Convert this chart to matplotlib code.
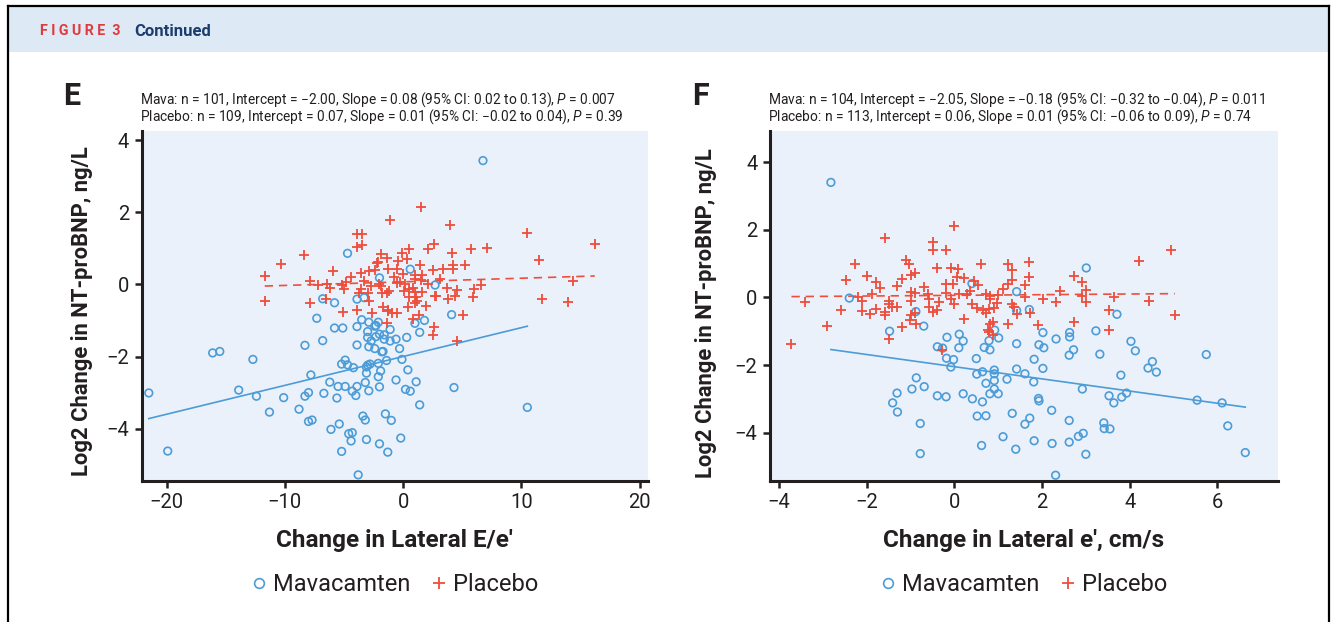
import numpy as np
import matplotlib
matplotlib.use('Agg')
import matplotlib.pyplot as plt
from matplotlib import font_manager
from matplotlib.lines import Line2D
from matplotlib.patches import Rectangle

# ---- panel E: change in lateral E/e' ----
e_mava_x = [-21.5, -19.9, -16.1, -15.5, -13.9, -12.7, -12.4, -11.3, -10.1, -8.8,
            -8.3, -8.3, -8.0, -8.0, -7.7, -7.8, -7.3, -6.8, -6.8, -6.7,
            -6.2, -6.1, -5.8, -5.8, -5.1, -5.6, -5.4, -5.5, -4.9, -5.2,
            -4.9, -4.7, -5.2, -4.7, -4.6, -4.3, -4.4, -4.3, -4.0, -4.2,
            -3.9, -3.9, -3.9, -3.9, -3.3, -3.8, -3.5, -3.4, -3.2, -3.2,
            -3.1, -3.0, -2.8, -3.1, -3.1, -3.0, -3.0, -2.9, -2.9, -2.7,
            -2.9, -2.4, -2.3, -2.1, -2.3, -2.1, -2.0, -2.1, -2.0, -1.6,
            -2.0, -2.0, -1.9, -1.7, -1.6, -1.4, -1.5, -1.3, 0.6, 2.7,
            4.1, 1.8, 1.0, 1.4, -2.4, -1.1, -1.1, -0.6, 0.3, -0.3,
            -0.1, 0.4, -0.6, 1.1, 0.2, 0.6, 4.3, 1.4, -1.0, -0.2,
            6.75, 10.5, -1.8]
e_mava_y = [-3.01, -4.62, -1.90, -1.86, -2.93, -2.08, -3.10, -3.54, -3.14, -3.46,
            -1.69, -3.10, -3.00, -3.80, -3.76, -2.51, -0.94, -0.40, -1.56, -3.02,
            -2.71, -4.02, -0.51, -1.21, -1.21, -3.15, -3.87, -2.83, -2.83, -2.21,
            -2.10, -2.23, -4.63, 0.86, -4.14, -4.11, -4.34, -2.96, -3.08, -2.31,
            -1.17, -1.68, -2.83, -0.41, -0.37, -5.28, -0.98, -3.65, -3.76, -2.72,
            -2.29, -2.24, -2.21, -2.46, -4.30, -1.31, -1.47, -1.73, -1.05, -1.57,
            -2.95, -1.78, -1.14, -1.05, -1.45, -2.56, -2.84, -2.19, -1.38, -1.40,
            -4.42, 0.18, -2.40, -1.86, -1.52, -2.11, -3.59, -4.65, 0.42, -0.02,
            -0.84, -1.00, -1.08, -1.33, -1.16, -1.25, -1.57, -1.52, -1.47, -1.78,
            -2.08, -2.37, -2.65, -2.70, -2.91, -2.96, -2.86, -3.34, -3.77, -4.26,
            3.43, -3.41, -1.87]

e_plac_x = [-11.7, -11.7, -10.3, -8.4, -7.9, -7.9, -7.2, -6.4, -6.2, -5.9,
            -6.5, -5.2, -5.0, -4.8, -5.1, -3.9, -3.5, -3.9, -3.5, -3.9,
            -3.6, -3.7, -3.6, -2.9, -3.0, -2.9, -2.6, -2.4, -2.1, -1.9,
            -2.2, -2.0, -1.8, -1.4, -1.7, -1.3, -1.4, -1.4, -1.1, 1.5,
            4.0, -0.1, 0.5, -0.4, 2.1, 2.6, 4.1, 5.7, -1.3, -0.5,
            1.4, 2.5, 3.4, 4.2, 4.2, 5.2, 1.0, 1.6, 1.0, 1.5,
            -1.9, -1.2, -0.5, -0.25, 0.2, 0.1, 0.5, 0.8, 1.0, 1.6,
            2.1, 0.5, 1.1, 1.2, 1.0, 0.45, 2.8, 3.7, 4.55, 3.8,
            4.4, 6.0, 5.9, -1.25, -0.9, -0.5, 0.8, 1.3, 2.65, 2.5,
            5.1, 4.55, 10.45, 16.2, 11.5, 7.1, 14.35, 6.6, 11.7, 13.95,
            2.7, -3.3, -2.7, 0.0, -0.8, 3.1, 1.9, -4.4, 0.3]
e_plac_y = [0.23, -0.46, 0.57, 0.82, 0.08, -0.53, -0.03, 0.01, -0.10, 0.38,
            -0.40, -0.01, -0.12, 0.06, -0.78, 1.40, 1.39, 1.03, 1.09, -0.72,
            -0.14, -0.23, 0.32, 0.38, -0.25, -0.46, -0.79, 0.40, 0.62, 0.83,
            0.58, 0.01, -0.23, -0.25, -0.64, -0.71, -1.08, 0.72, 1.79, 2.14,
            1.65, 0.88, 0.98, 0.65, 0.97, 1.11, 0.88, 0.97, 0.42, 0.42,
            0.53, 0.41, 0.43, 0.53, 0.43, 0.54, 0.26, 0.26, 0.14, 0.12,
            -0.05, -0.18, 0.05, 0.06, 0.00, -0.18, -0.13, -0.09, -0.21, -0.20,
            0.00, -0.35, -0.34, -0.46, -0.53, -0.62, -0.33, -0.11, -0.17, -0.41,
            -0.33, -0.14, -0.36, -0.74, -0.79, -0.79, -0.96, -0.84, -1.19, -1.40,
            -0.85, -1.58, 1.41, 1.12, 0.68, 1.02, 0.10, -0.02, -0.40, -0.48,
            -0.32, 0.10, -0.05, 0.30, 0.20, 0.15, -0.60, 0.20, 0.70]

e_mava_fit = (-2.00, 0.08)   # intercept, slope
e_plac_fit = (0.07, 0.01)
e_note = ['Mava: n = 101, Intercept = \u22122.00, Slope = 0.08 (95% CI: 0.02 to 0.13), $P$ = 0.007',
          'Placebo: n = 109, Intercept = 0.07, Slope = 0.01 (95% CI: \u22120.02 to 0.04), $P$ = 0.39']

# ---- panel F: change in lateral e' ----
f_mava_x = [-2.82, -2.40, -1.48, -0.88, -0.70, -0.17, -0.39, -0.27, -0.18, -0.02,
            -0.08, 0.11, 0.20, 0.10, 0.40, 0.50, 0.51, 0.64, 0.68, 0.81,
            0.79, 0.92, 0.91, 0.91, 0.91, 0.72, 0.91, 0.81, 1.00, 1.01,
            1.20, 1.32, 1.11, 1.40, 0.62, 0.52, 0.72, 0.41, 0.64, 0.20,
            -0.39, -0.19, -0.87, -0.97, -0.69, -1.31, -1.41, -1.30, -0.78, -0.78,
            1.42, 1.42, 1.42, 1.42, 1.71, 2.02, 2.32, 1.93, 2.04, 1.82,
            2.02, 1.61, 1.81, 1.92, 1.93, 1.72, 1.61, 2.22, 1.82, 2.23,
            2.31, 3.01, 3.71, 2.63, 2.63, 3.23, 2.72, 2.62, 3.32, 4.03,
            4.13, 5.75, 4.52, 4.42, 4.61, 3.80, 2.92, 3.53, 3.64, 3.82,
            3.93, 5.54, 6.11, 6.24, 6.64, 2.62, 3.41, 3.42, 3.55, 2.94,
            2.83, 2.62, 3.00]
f_mava_y = [3.40, -0.02, -1.00, -0.42, -0.85, -1.18, -1.46, -1.50, -1.80, -1.84,
            -2.06, -1.09, -1.29, -1.49, 0.41, -1.81, -2.27, -2.20, -1.48, -1.55,
            -1.28, -0.97, -2.15, -2.26, -2.46, -2.54, -2.71, -2.85, -2.85, -1.20,
            -2.42, -3.43, -4.12, -4.49, -4.38, -3.51, -3.50, -3.00, -3.09, -2.85,
            -2.91, -2.94, -2.38, -2.71, -2.64, -2.83, -3.12, -3.39, -3.73, -4.62,
            0.17, -0.39, -1.37, -2.12, -0.36, -1.04, -1.23, -1.40, -1.49, -1.83,
            -2.10, -2.26, -2.50, -2.99, -3.06, -3.57, -3.75, -3.34, -4.24, -4.32,
            -5.26, 0.87, -0.50, -1.04, -1.17, -0.99, -1.55, -1.71, -1.68, -1.30,
            -1.58, -1.69, -1.90, -2.09, -2.21, -2.30, -2.71, -2.91, -3.12, -2.95,
            -2.83, -3.04, -3.12, -3.80, -4.59, -3.64, -3.71, -3.88, -3.89, -4.02,
            -4.11, -4.28, -4.64]

f_plac_x = [-3.72, -3.42, -2.91, -2.60, -2.48, -2.28, -2.21, -2.10, -2.10, -2.00,
            -1.92, -1.80, -1.89, -1.79, -1.69, -1.59, -1.59, -1.59, -1.50, -1.50,
            -1.50, -1.42, -1.32, -1.19, -1.19, -1.10, -1.03, -1.00, -0.91, -0.99,
            -0.91, -1.00, -0.99, -0.91, -1.02, -0.88, -0.50, -0.50, -0.40, -0.60,
            -0.59, -0.59, -0.49, -0.40, -0.28, -0.19, -0.19, -0.03, -0.19, -0.08,
            0.09, 0.00, -0.08, -0.02, 0.11, 0.29, 0.21, 0.21, 0.39, 0.51,
            0.44, 0.53, 0.61, 0.66, 0.73, 0.79, 0.73, 0.81, 0.81, 0.87,
            0.81, 0.77, 0.78, 0.88, 0.97, 1.00, 1.22, 1.32, 1.22, 1.32,
            1.22, 1.32, 1.35, 1.43, 1.71, 1.71, 1.62, 1.61, 2.02, 2.31,
            1.91, 0.90, 4.94, 4.22, 2.72, 2.92, 3.01, 2.91, 3.01, 3.64,
            4.44, 5.03, 1.72, 3.54, 3.52, 2.72, -0.70, 0.35, 1.10, -1.30,
            2.40, 0.05, -0.35]
f_plac_y = [-1.37, -0.13, -0.85, -0.36, 0.52, 0.98, 0.00, -0.11, -0.39, 0.64,
            -0.48, -0.34, 0.11, 0.44, 0.29, 1.76, -0.42, -0.53, -0.11, -0.21,
            -1.22, -0.27, -0.27, 0.55, -0.88, 1.10, 1.00, 0.65, 0.72, 0.15,
            0.12, -0.12, -0.51, -0.46, -0.66, -0.79, 1.63, 1.39, 0.88, 0.09,
            -0.06, -0.27, -0.42, -0.37, -1.57, 1.39, 0.40, 0.41, 0.13, 0.88,
            0.84, 2.11, -0.05, -0.19, 0.09, 0.09, 0.58, -0.64, -0.20, -0.30,
            0.47, 0.38, 0.98, -0.37, -0.46, -0.34, 0.09, 0.05, -0.05, -0.73,
            -0.79, -0.96, -1.03, -1.11, -0.17, 0.08, 0.98, 0.82, 0.41, 0.50,
            -0.80, -0.19, -0.27, -0.49, 1.05, 0.59, 0.38, 0.01, -0.05, -0.14,
            -0.81, -0.30, 1.39, 1.09, 0.64, 0.45, 0.22, 0.05, -0.13, 0.01,
            -0.11, -0.53, -0.45, -0.37, -0.95, -0.72, 0.30, 0.20, 0.25, 0.35,
            0.20, 0.60, -0.15]

f_mava_fit = (-2.05, -0.18)
f_plac_fit = (0.06, 0.01)
f_note = ['Mava: n = 104, Intercept = \u22122.05, Slope = \u22120.18 (95% CI: \u22120.32 to \u22120.04), $P$ = 0.011',
          'Placebo: n = 113, Intercept = 0.06, Slope = 0.01 (95% CI: \u22120.06 to 0.09), $P$ = 0.74']

BLUE = '#4C9CD8'
RED = '#EE4E3B'
BG = '#EAF1FA'
INK = '#231F20'
HEADER = '#DDE9F5'

names = {f.name for f in font_manager.fontManager.ttflist}
FONT = 'DejaVu Sans'
for cand in ['Roboto', 'Lato', 'Open Sans']:
    if cand in names:
        FONT = cand
        break
plt.rcParams['font.family'] = [FONT, 'DejaVu Sans']
plt.rcParams['mathtext.fontset'] = 'custom'
plt.rcParams['mathtext.it'] = FONT + ':italic'
plt.rcParams['mathtext.rm'] = FONT

fig = plt.figure(figsize=(13.36, 6.22), dpi=100)
W, H = 1336.0, 622.0

# header band and frame
fig.add_artist(Rectangle((9 / W, 1 - 52 / H), 1320 / W, 45 / H, transform=fig.transFigure,
                         facecolor=HEADER, edgecolor='none'))
frame = dict(transform=fig.transFigure, color='black', lw=1.6)
fig.add_artist(Line2D([8 / W, 8 / W], [0, 1 - 6 / H], **frame))
fig.add_artist(Line2D([8 / W, 1329 / W], [1 - 6 / H, 1 - 6 / H], **frame))
fig.add_artist(Line2D([1329 / W, 1329 / W], [0, 1 - 6 / H], **frame))
fig.text(40 / W, 1 - 31 / H, 'F I G U R E  3', color='#E03A3E', fontsize=10.3, fontweight='bold',
         va='center', ha='left')
fig.text(134 / W, 1 - 31 / H, 'Continued', color='#1B3D6E', fontsize=12, fontweight='bold',
         va='center', ha='left')


def draw_panel(ax, mava_x, mava_y, plac_x, plac_y, mava_fit, plac_fit,
               xlim, ylim, xticks, xlabel):
    ax.set_facecolor(BG)
    ax.scatter(mava_x, mava_y, s=30, facecolors='none', edgecolors=BLUE, linewidths=1.2, zorder=3)
    ax.scatter(plac_x, plac_y, marker='+', s=45, c=RED, linewidths=1.3, zorder=3)

    xs = np.array([min(mava_x), max(mava_x)])
    ax.plot(xs, mava_fit[0] + mava_fit[1] * xs, color=BLUE, lw=1.2, zorder=2)
    xs = np.array([min(plac_x), max(plac_x)])
    ax.plot(xs, plac_fit[0] + plac_fit[1] * xs, color=RED, lw=1.2, dashes=(5, 3.5), zorder=2)

    ax.set_xlim(*xlim)
    ax.set_ylim(*ylim)
    ax.set_xticks(xticks)
    ax.set_yticks([-4, -2, 0, 2, 4])
    for side in ['top', 'right']:
        ax.spines[side].set_visible(False)
    for side in ['left', 'bottom']:
        ax.spines[side].set_linewidth(2.2)
        ax.spines[side].set_color(INK)
    ax.tick_params(direction='out', length=5, width=1.8, color=INK, labelsize=14.5,
                   labelcolor=INK, pad=4)

    ax.set_xlabel(xlabel, fontsize=17.5, fontweight='bold', color=INK)
    ax.set_ylabel('Log2 Change in NT-proBNP, ng/L', fontsize=15.8, fontweight='bold', color=INK)
    ax.xaxis.label.set_va('center')
    ax.yaxis.label.set_va('center')

    handles = [Line2D([], [], marker='o', ls='none', mfc='none', mec=BLUE, ms=7, mew=1.2),
               Line2D([], [], marker='+', ls='none', color=RED, ms=8, mew=1.3)]
    ax.legend(handles, ['Mavacamten', 'Placebo'], loc='center', bbox_to_anchor=(0.5, -0.297),
              ncol=2, frameon=False, fontsize=17, handlelength=0.6, handletextpad=0.3,
              columnspacing=0.9, labelcolor=INK)


ax_e = fig.add_axes([141.7 / W, 1 - 481 / H, 506.3 / W, 350 / H])
draw_panel(ax_e, e_mava_x, e_mava_y, e_plac_x, e_plac_y, e_mava_fit, e_plac_fit,
           (-22.1, 20.7), (-5.45, 4.25), [-20, -10, 0, 10, 20], 'Change in Lateral E/e\u2032')
ax_e.yaxis.set_label_coords(-0.118, 0.486)
ax_e.xaxis.set_label_coords(0.5, -0.171)

ax_f = fig.add_axes([770 / W, 1 - 481 / H, 507.7 / W, 350 / H])
draw_panel(ax_f, f_mava_x, f_mava_y, f_plac_x, f_plac_y, f_mava_fit, f_plac_fit,
           (-4.21, 7.38), (-5.43, 4.92), [-4, -2, 0, 2, 4, 6], 'Change in Lateral e\u2032, cm/s')
ax_f.yaxis.set_label_coords(-0.126, 0.48)
ax_f.xaxis.set_label_coords(0.5, -0.171)

# panel letters and regression notes
fig.text(63 / W, 1 - 96 / H, 'E', fontsize=22, fontweight='bold', color=INK, va='center')
fig.text(692 / W, 1 - 96 / H, 'F', fontsize=22, fontweight='bold', color=INK, va='center')
for i, line in enumerate(e_note):
    fig.text(140 / W, 1 - (100 + 16.5 * i) / H, line, fontsize=9.9, color=INK, va='center')
for i, line in enumerate(f_note):
    fig.text(768 / W, 1 - (100 + 16.5 * i) / H, line, fontsize=9.9, color=INK, va='center')

fig.savefig('out.png', dpi=100, facecolor='white')
